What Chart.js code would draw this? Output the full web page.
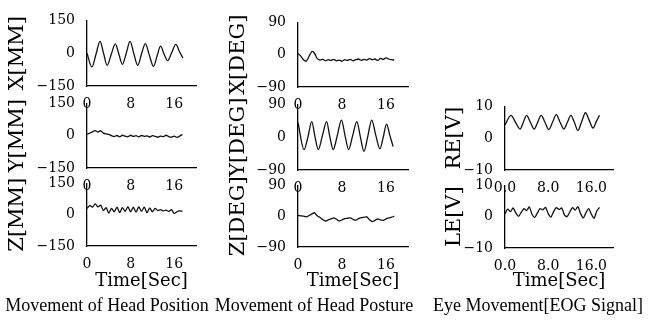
<!DOCTYPE html>
<html>
<head>
<meta charset="utf-8">
<script src="https://cdn.jsdelivr.net/npm/chart.js@4.4.1/dist/chart.umd.min.js"></script>
<style>
  body { margin: 0; background: #fff; width: 655px; height: 320px; position: relative; overflow: hidden; }
  canvas { position: absolute; }
  .caption {
    position: absolute; top: 295px; line-height: 20px;
    font-family: "Liberation Serif", serif; font-size: 18px; color: #000;
    white-space: nowrap; transform: translateX(-50%);
  }
</style>
</head>
<body>
<canvas id="pos-x" width="201" height="100" style="left:0px;top:8px"></canvas>
<canvas id="pos-y" width="201" height="99" style="left:0px;top:91px"></canvas>
<canvas id="pos-z" width="201" height="125" style="left:0px;top:171px"></canvas>
<canvas id="rot-x" width="193" height="99" style="left:220px;top:10px"></canvas>
<canvas id="rot-y" width="193" height="100" style="left:220px;top:92px"></canvas>
<canvas id="rot-z" width="193" height="124" style="left:220px;top:173px"></canvas>
<canvas id="eog-re" width="183" height="98" style="left:435px;top:94px"></canvas>
<canvas id="eog-le" width="183" height="125" style="left:435px;top:173px"></canvas>
<div class="caption" style="left:107px">Movement of Head Position</div>
<div class="caption" style="left:314px">Movement of Head Posture</div>
<div class="caption" style="left:538px">Eye Movement[EOG Signal]</div>
<script>
// time stamps (sec) shared by the noisier traces
const noiseTime = [0, 0.5, 1, 1.5, 2, 2.5, 3, 3.5, 4, 4.5, 5, 5.5, 6, 6.5, 7, 7.5, 8, 8.5,
  9, 9.5, 10, 10.5, 11, 11.5, 12, 12.5, 13, 13.5, 14, 14.5, 15, 15.5, 16, 16.5, 17, 17.5];
const timeTicks = [0, 8, 16];

// head position [MM]
const posXTime = [0, 0.9, 1.65, 2.4, 3.05, 3.7, 4.45, 5.2, 5.85, 6.5, 7.2, 7.9, 8.6, 9.3,
  10.0, 10.7, 11.45, 12.2, 12.85, 13.5, 14.15, 14.8, 15.55, 16.3, 16.95, 17.6];
const posX = [0, -63, -5, 54, -2, -56, -5, 43, -5, -51, 0, 54, -3, -56, -4, 44, -10, -60,
  -13, 32, -5, -34, 3, 40, 8, -22];
const posY = [6, 12, 18, 24, 17, 23, 12, 8, 6, 0, -4, 1, -5, 2, -2, -5, 2, -3, 0, -5,
  1, -3, -1, -6, 0, -3, -7, -2, -4, 2, -4, -7, -2, -8, -2, 6];
const posZ = [30, 44, 36, 52, 38, 46, 20, 34, 8, 30, 14, 36, 10, 34, 16, 38, 14, 36, 12, 38,
  16, 36, 10, 32, 14, 30, 20, 24, 18, 22, 16, 24, 6, 14, 18, 16];

// head posture [DEG]
const rotX = [3, -4, -14, -18, -5, 9, 4, -11, -15, -13, -17, -14, -16, -13, -17, -15, -18, -14,
  -16, -13, -17, -14, -12, -16, -13, -15, -11, -14, -12, -16, -10, -13, -9, -12, -14, -15];
const rotYTime = [0, 1.1, 1.8, 2.5, 3.1, 3.7, 4.45, 5.2, 5.8, 6.4, 7.15, 7.9, 8.55, 9.2,
  9.95, 10.7, 11.35, 12.0, 12.7, 13.4, 14.15, 14.9, 15.5, 16.1, 16.7, 17.3];
const rotY = [40, -34, 0, 43, 0, -34, 5, 43, 0, -34, 5, 47, 5, -34, 5, 43, 0, -39, 3, 47,
  5, -32, 0, 36, 5, -26];
const rotZ = [2, 1, 0, -2, 2, 6, 10, 1, -4, -10, -14, -11, -8, -5, -9, -14, -11, -7, -6, -5,
  -9, -12, -7, -4, -3, -2, -10, -16, -12, -8, -11, -12, -8, -5, -3, 0];

// eye movement (EOG) [V]
const reTime = [0, 1.1, 1.95, 2.8, 3.4, 4.0, 4.7, 5.4, 6.05, 6.7, 7.4, 8.1, 8.8, 9.5,
  10.2, 10.9, 11.55, 12.2, 12.85, 13.5, 14.2, 14.9, 15.6, 16.3, 16.9, 17.5];
const reV = [4.2, 7.2, 5, 2.9, 5, 7.2, 5, 2.9, 5, 7.2, 5, 2.7, 5, 7.4, 5, 2.9, 5, 7.2,
  5, 2.4, 5.2, 8.0, 5.6, 3.2, 5.2, 7.2];
const leV = [1.0, 2.4, 1.6, 2.8, 1.2, 0.1, 1.4, 2.6, 2.0, 3.1, 0.8, -0.2, 1.2, 2.6, 2.2, 3.0,
  1.0, -0.1, 1.6, 2.9, 2.3, 2.8, 0.6, 0.0, 1.5, 2.9, 2.1, 3.2, 1.0, -0.4, 1.3, 2.6, 0.8, -0.5, 1.8, 3.0];

const serif = 'DejaVu Serif';

function minusLabel(v) {
  return v < 0 ? '\u2212' + Math.abs(v) : String(v);
}

function makePanel(id, times, values, o) {
  const points = times.map((t, i) => ({ x: t, y: values[i] }));
  new Chart(document.getElementById(id), {
    type: 'line',
    data: {
      datasets: [{
        data: points,
        borderColor: '#111',
        borderWidth: 1.3,
        pointRadius: 0,
        fill: false,
        tension: o.smooth ? 0 : 0.25,
        cubicInterpolationMode: o.smooth ? 'monotone' : 'default',
      }],
    },
    options: {
      responsive: false,
      animation: false,
      devicePixelRatio: 1,
      layout: { padding: { top: 10, right: 5, left: 0, bottom: 0 } },
      plugins: { legend: { display: false }, tooltip: { enabled: false } },
      scales: {
        x: {
          type: 'linear', min: 0, max: 20,
          afterBuildTicks: s => { s.ticks = timeTicks.map(v => ({ value: v })); },
          afterFit: s => { s.height = o.xTitle ? 50 : 22; },
          border: { color: '#000', width: 1.3 },
          grid: { display: false },
          ticks: {
            color: '#000', padding: 2, maxRotation: 0, autoSkip: false,
            font: { family: serif, size: 14 },
            callback: v => o.decimals ? v.toFixed(1) : v,
          },
          title: {
            display: !!o.xTitle, text: 'Time[Sec]', color: '#000',
            font: { family: serif, size: 18 },
            padding: { top: 0, bottom: o.xTitlePad || 4 },
          },
        },
        y: {
          min: -o.yMax, max: o.yMax,
          afterBuildTicks: s => { s.ticks = [-o.yMax, 0, o.yMax].map(v => ({ value: v })); },
          afterFit: s => { s.width = o.yWidth; },
          border: { color: '#000', width: 1.3 },
          grid: { display: false },
          ticks: {
            color: '#000', padding: 4,
            font: { family: serif, size: 14 },
            callback: minusLabel,
          },
          title: {
            display: true, text: o.yTitle, color: '#000',
            font: { family: serif, size: 21 },
            padding: { top: o.titlePad, bottom: 0 },
          },
        },
      },
    },
  });
}

// head position column
makePanel('pos-x', posXTime, posX, { yTitle: 'X[MM]', yMax: 150, yWidth: 87, titlePad: 5.4, smooth: true });
makePanel('pos-y', noiseTime, posY, { yTitle: 'Y[MM]', yMax: 150, yWidth: 87, titlePad: 5.4 });
makePanel('pos-z', noiseTime, posZ, { yTitle: 'Z[MM]', yMax: 150, yWidth: 87, titlePad: 5.4, xTitle: true, xTitlePad: 3.5 });

// head posture column
makePanel('rot-x', noiseTime, rotX, { yTitle: 'X[DEG]', yMax: 90, yWidth: 78, titlePad: 6.4 });
makePanel('rot-y', rotYTime, rotY, { yTitle: 'Y[DEG]', yMax: 90, yWidth: 78, titlePad: 6.4, smooth: true });
makePanel('rot-z', noiseTime, rotZ, { yTitle: 'Z[DEG]', yMax: 90, yWidth: 78, titlePad: 6.4, xTitle: true, xTitlePad: 4.5 });

// EOG column
makePanel('eog-re', reTime, reV, { yTitle: 'RE[V]', yMax: 10, yWidth: 70, titlePad: 7.4, smooth: true, decimals: true });
makePanel('eog-le', noiseTime, leV, { yTitle: 'LE[V]', yMax: 10, yWidth: 70, titlePad: 7.4, decimals: true, xTitle: true, xTitlePad: 5.5 });
</script>
</body>
</html>
